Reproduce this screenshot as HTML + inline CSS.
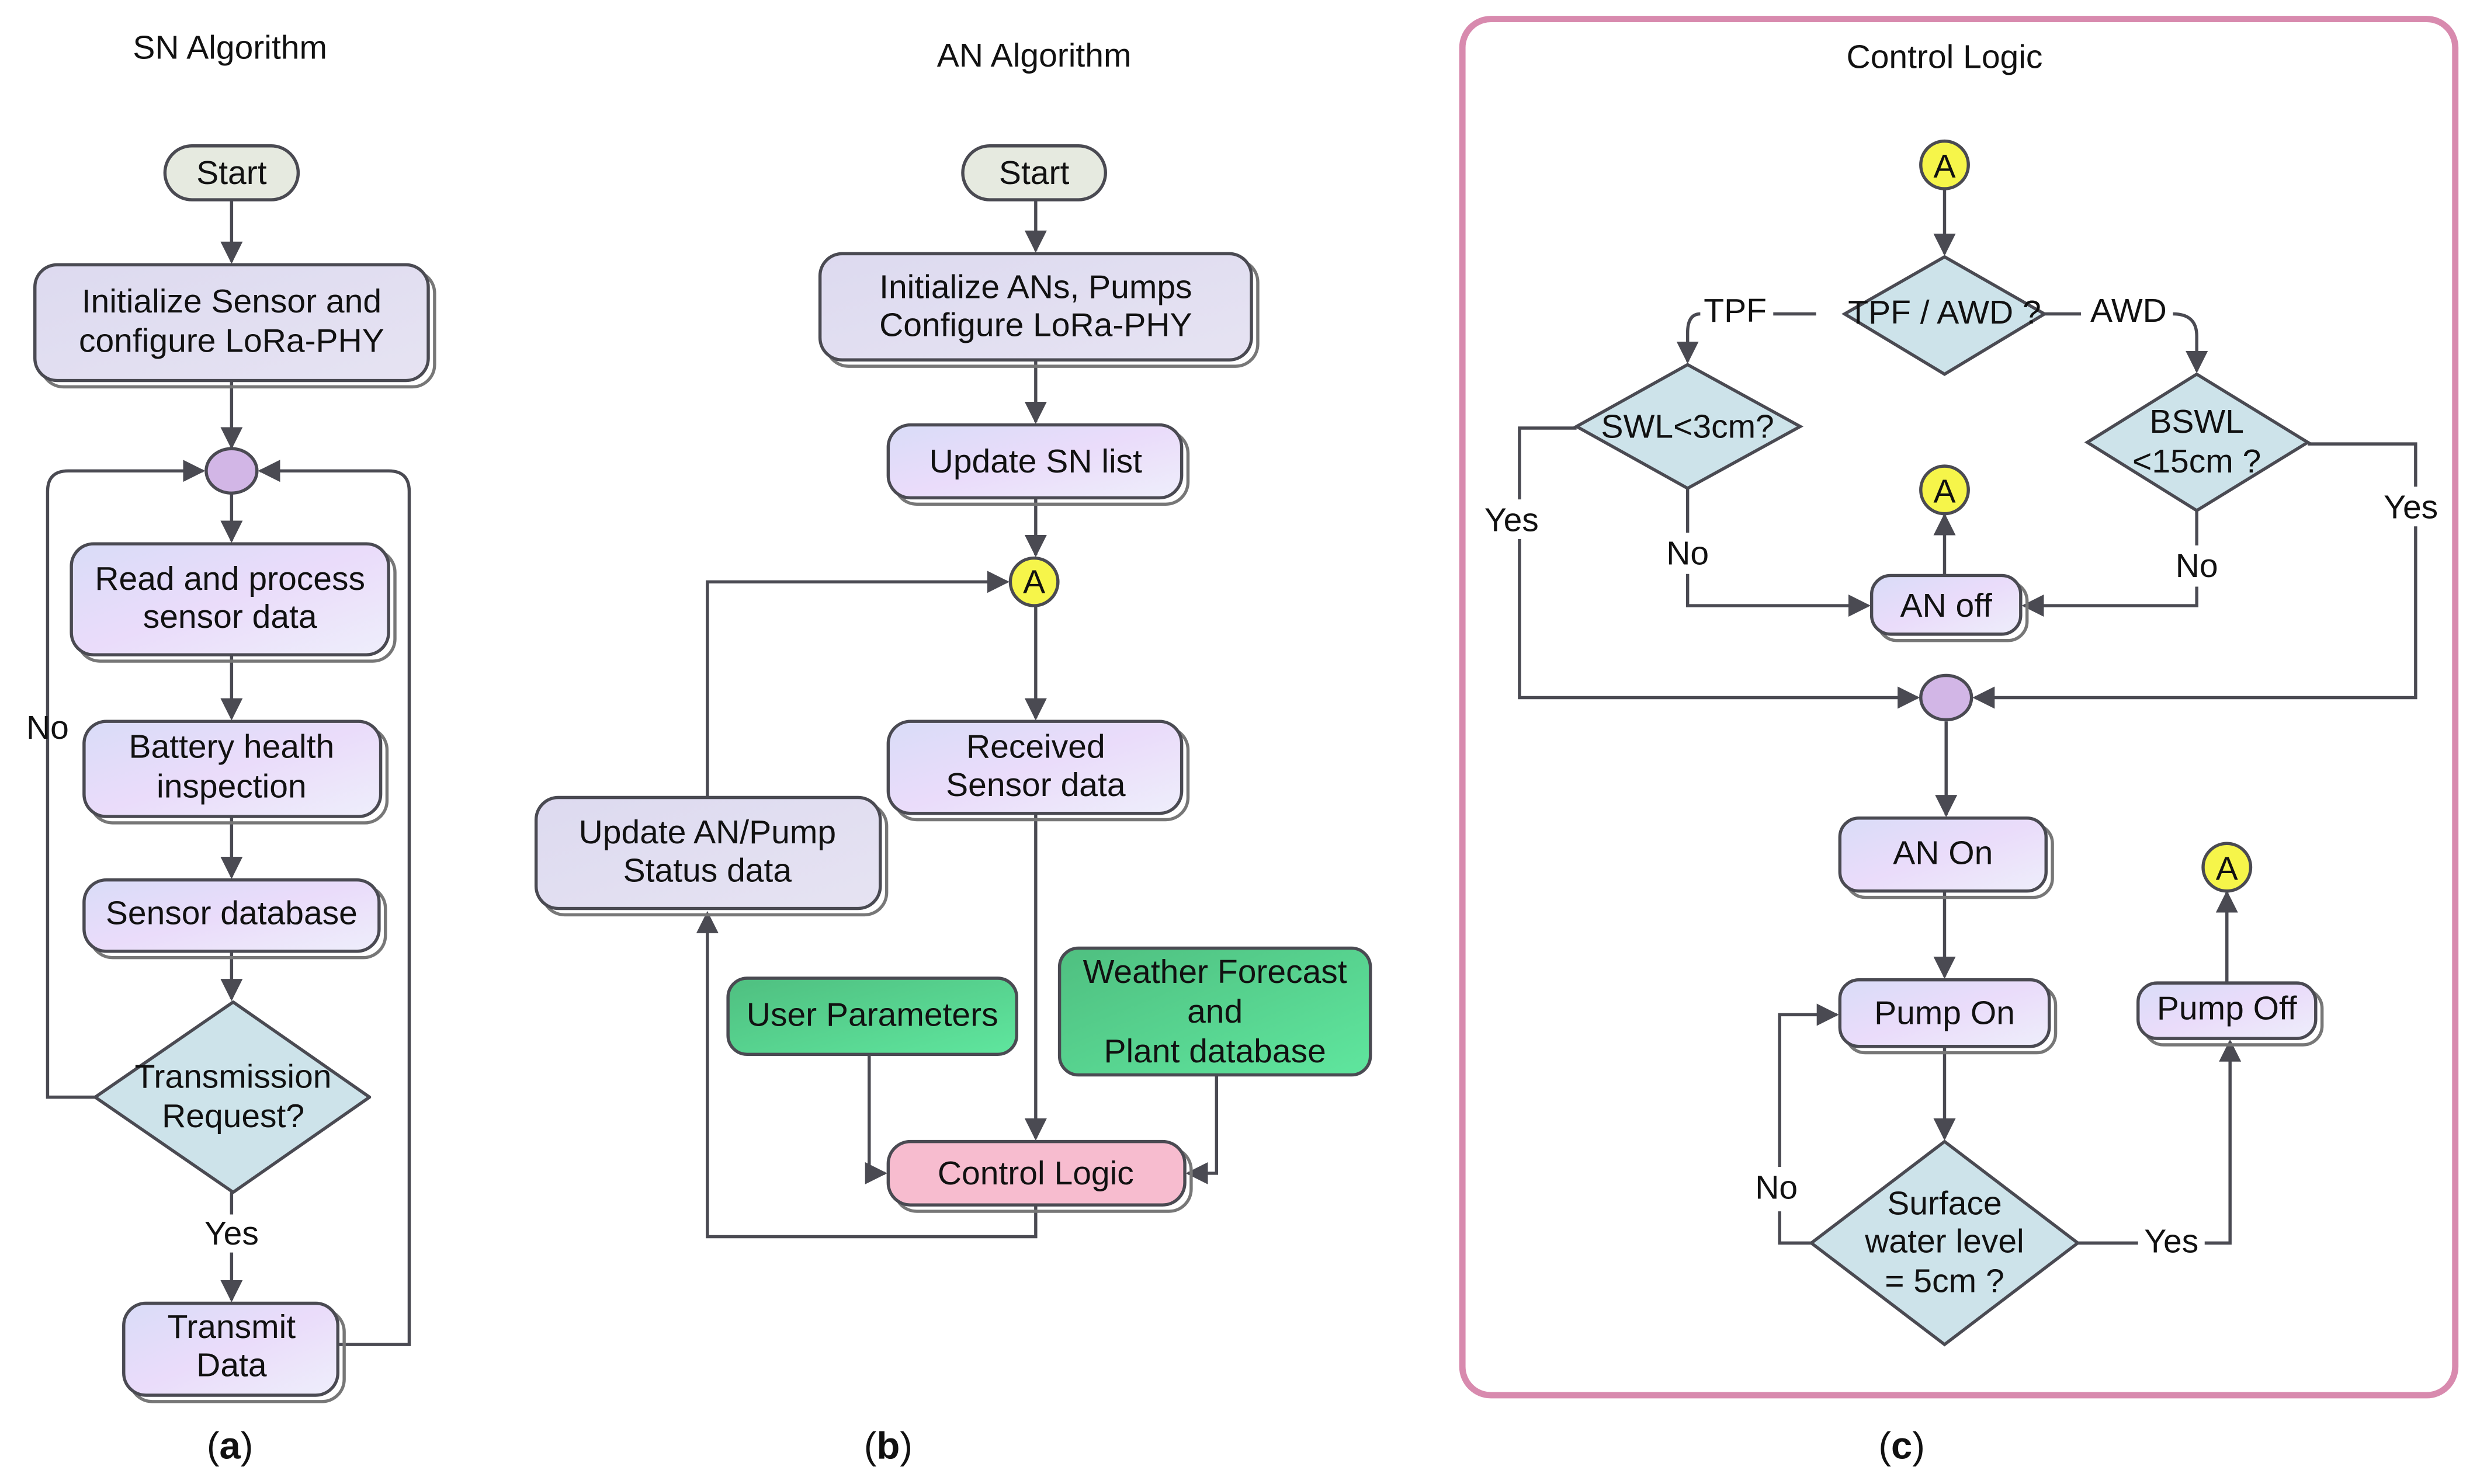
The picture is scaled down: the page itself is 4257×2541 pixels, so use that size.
<!DOCTYPE html>
<html><head><meta charset="utf-8"><style>
html,body{margin:0;padding:0;background:#fff}
svg{display:block}
text{font-family:"Liberation Sans",sans-serif;fill:#111}
</style></head><body>
<svg width="4257" height="2541" viewBox="0 0 1568 936" preserveAspectRatio="none" xmlns="http://www.w3.org/2000/svg">
<defs>
<linearGradient id="lav" x1="0" y1="0" x2="1" y2="1"><stop offset="0" stop-color="#d9dcf8"/><stop offset="0.5" stop-color="#eadcfa"/><stop offset="1" stop-color="#eeeefb"/></linearGradient>
<linearGradient id="lav2" x1="0" y1="0" x2="1" y2="1"><stop offset="0" stop-color="#dddaf0"/><stop offset="1" stop-color="#e6e3f2"/></linearGradient>
<linearGradient id="grn" x1="0" y1="0" x2="1" y2="1"><stop offset="0" stop-color="#4fbf80"/><stop offset="1" stop-color="#5fe69e"/></linearGradient>
<marker id="ar" viewBox="0 0 10 10" refX="9" refY="5" markerWidth="7" markerHeight="7" orient="auto-start-reverse"><path d="M0,0 L10,5 L0,10 z" fill="#4a4a52"/></marker>
</defs>
<g font-size="21" text-anchor="middle">
<text x="145" y="37">SN Algorithm</text>
<text x="652" y="42">AN Algorithm</text>
<text x="1226" y="43">Control Logic</text>
<text x="145" y="920" font-family="Liberation Serif" font-size="24">(<tspan font-weight="bold">a</tspan>)</text>
<text x="560" y="920" font-family="Liberation Serif" font-size="24">(<tspan font-weight="bold">b</tspan>)</text>
<text x="1199" y="920" font-family="Liberation Serif" font-size="24">(<tspan font-weight="bold">c</tspan>)</text>
</g>
<rect x="922" y="12" width="626" height="868" rx="18" fill="none" stroke="#d88aae" stroke-width="4"/>

<g stroke="#4a4a52" stroke-width="2" fill="none">
<line x1="146" y1="126" x2="146" y2="165" marker-end="url(#ar)"/>
<line x1="146" y1="240" x2="146" y2="282" marker-end="url(#ar)"/>
<line x1="146" y1="311" x2="146" y2="341" marker-end="url(#ar)"/>
<line x1="146" y1="413" x2="146" y2="453" marker-end="url(#ar)"/>
<line x1="146" y1="515" x2="146" y2="553" marker-end="url(#ar)"/>
<line x1="146" y1="600" x2="146" y2="630" marker-end="url(#ar)"/>
<line x1="146" y1="752" x2="146" y2="766"/>
<line x1="146" y1="790" x2="146" y2="820" marker-end="url(#ar)"/>
<path d="M60,692 L30,692 L30,310 Q30,297 43,297 L128,297" marker-end="url(#ar)"/>
<path d="M213,848 L258,848 L258,310 Q258,297 245,297 L164,297" marker-end="url(#ar)"/>
<line x1="653" y1="126" x2="653" y2="158" marker-end="url(#ar)"/>
<line x1="653" y1="227" x2="653" y2="266" marker-end="url(#ar)"/>
<line x1="653" y1="314" x2="653" y2="350" marker-end="url(#ar)"/>
<line x1="653" y1="382" x2="653" y2="453" marker-end="url(#ar)"/>
<line x1="653" y1="513" x2="653" y2="718" marker-end="url(#ar)"/>
<path d="M653,760 L653,780 L446,780 L446,576" marker-end="url(#ar)"/>
<path d="M446,503 L446,367 L635,367" marker-end="url(#ar)"/>
<path d="M548,665 L548,740 L558,740" marker-end="url(#ar)"/>
<path d="M767,678 L767,740 L749,740" marker-end="url(#ar)"/>
<line x1="1226" y1="119" x2="1226" y2="160" marker-end="url(#ar)"/>
<path d="M1145,198 L1118,198"/>
<path d="M1072,198 Q1064,198 1064,210 L1064,228" marker-end="url(#ar)"/>
<path d="M1289,198 L1312,198"/>
<path d="M1370,198 Q1385,198 1385,212 L1385,234" marker-end="url(#ar)"/>
<path d="M1064,308 L1064,336"/>
<path d="M1064,362 L1064,382 L1178,382" marker-end="url(#ar)"/>
<path d="M1385,322 L1385,344"/>
<path d="M1385,370 L1385,382 L1276,382" marker-end="url(#ar)"/>
<line x1="1226" y1="363" x2="1226" y2="325" marker-end="url(#ar)"/>
<path d="M994,270 L958,270 L958,315"/>
<path d="M958,340 L958,440 L1209,440" marker-end="url(#ar)"/>
<path d="M1455,280 L1523,280 L1523,307"/>
<path d="M1523,332 L1523,440 L1245,440" marker-end="url(#ar)"/>
<line x1="1227" y1="455" x2="1227" y2="514" marker-end="url(#ar)"/>
<line x1="1226" y1="562" x2="1226" y2="616" marker-end="url(#ar)"/>
<line x1="1226" y1="660" x2="1226" y2="718" marker-end="url(#ar)"/>
<path d="M1142,784 L1122,784 L1122,764"/>
<path d="M1122,736 L1122,640 L1158,640" marker-end="url(#ar)"/>
<path d="M1310,784 L1348,784"/>
<path d="M1390,784 L1406,784 L1406,657" marker-end="url(#ar)"/>
<line x1="1404" y1="620" x2="1404" y2="563" marker-end="url(#ar)"/>
</g>

<g stroke="#4a4a52" stroke-width="2">
<g fill="none" stroke="#777" stroke-width="2">
<rect x="26" y="171" width="248" height="73" rx="14"/>
<rect x="49" y="347" width="200" height="70" rx="14"/>
<rect x="57" y="459" width="187" height="60" rx="14"/>
<rect x="57" y="559" width="186" height="45" rx="14"/>
<rect x="82" y="826" width="135" height="58" rx="14"/>
<rect x="521" y="164" width="272" height="67" rx="14"/>
<rect x="564" y="272" width="185" height="46" rx="14"/>
<rect x="564" y="459" width="185" height="58" rx="14"/>
<rect x="342" y="507" width="217" height="70" rx="14"/>
<rect x="564" y="724" width="187" height="40" rx="14"/>
<rect x="1184" y="367" width="94" height="37" rx="12"/>
<rect x="1164" y="520" width="130" height="46" rx="12"/>
<rect x="1164" y="622" width="132" height="42" rx="12"/>
<rect x="1352" y="624" width="112" height="35" rx="12"/>
</g>
<rect x="104" y="92" width="84" height="34" rx="17" fill="#e6eae0"/>
<rect x="22" y="167" width="248" height="73" rx="14" fill="url(#lav2)"/>
<ellipse cx="146" cy="297" rx="16" ry="14" fill="#d2b6e6"/>
<rect x="45" y="343" width="200" height="70" rx="14" fill="url(#lav)"/>
<rect x="53" y="455" width="187" height="60" rx="14" fill="url(#lav)"/>
<rect x="53" y="555" width="186" height="45" rx="14" fill="url(#lav)"/>
<path d="M147,632 L233,692 L147,752 L60,692 Z" fill="#cde3ea" stroke-linejoin="round"/>
<rect x="78" y="822" width="135" height="58" rx="14" fill="url(#lav)"/>

<rect x="607" y="92" width="90" height="34" rx="17" fill="#e6eae0"/>
<rect x="517" y="160" width="272" height="67" rx="14" fill="url(#lav2)"/>
<rect x="560" y="268" width="185" height="46" rx="14" fill="url(#lav)"/>
<circle cx="652" cy="367" r="15" fill="#f6f54a"/>
<rect x="560" y="455" width="185" height="58" rx="14" fill="url(#lav)"/>
<rect x="338" y="503" width="217" height="70" rx="14" fill="url(#lav2)"/>
<rect x="459" y="617" width="182" height="48" rx="12" fill="url(#grn)"/>
<rect x="668" y="598" width="196" height="80" rx="12" fill="url(#grn)"/>
<rect x="560" y="720" width="187" height="40" rx="14" fill="#f7bccf"/>

<circle cx="1226" cy="104" r="15" fill="#f6f54a"/>
<path d="M1226,162 L1289,198 L1226,236 L1163,198 Z" fill="#cde3ea"/>
<path d="M1064,230 L1135,269 L1064,308 L994,269 Z" fill="#cde3ea"/>
<path d="M1385,236 L1455,279 L1385,322 L1316,279 Z" fill="#cde3ea"/>
<circle cx="1226" cy="309" r="15" fill="#f6f54a"/>
<rect x="1180" y="363" width="94" height="37" rx="12" fill="url(#lav)"/>
<ellipse cx="1227" cy="440" rx="16" ry="14" fill="#d2b6e6"/>
<rect x="1160" y="516" width="130" height="46" rx="12" fill="url(#lav)"/>
<rect x="1160" y="618" width="132" height="42" rx="12" fill="url(#lav)"/>
<rect x="1348" y="620" width="112" height="35" rx="12" fill="url(#lav)"/>
<circle cx="1404" cy="547" r="15" fill="#f6f54a"/>
<path d="M1226,720 L1310,784 L1226,848 L1142,784 Z" fill="#cde3ea"/>
</g>

<g font-size="21" text-anchor="middle">
<text x="146" y="116">Start</text>
<text x="146" y="197">Initialize Sensor and</text>
<text x="146" y="222">configure LoRa-PHY</text>
<text x="145" y="372">Read and process</text>
<text x="145" y="396">sensor data</text>
<text x="146" y="478">Battery health</text>
<text x="146" y="503">inspection</text>
<text x="146" y="583">Sensor database</text>
<text x="147" y="686">Transmission</text>
<text x="147" y="711">Request?</text>
<text x="146" y="785">Yes</text>
<text x="30" y="466">No</text>
<text x="146" y="844">Transmit</text>
<text x="146" y="868">Data</text>

<text x="652" y="116">Start</text>
<text x="653" y="188">Initialize ANs, Pumps</text>
<text x="653" y="212">Configure LoRa-PHY</text>
<text x="653" y="298">Update SN list</text>
<text x="652" y="374">A</text>
<text x="653" y="478">Received</text>
<text x="653" y="502">Sensor data</text>
<text x="446" y="532">Update AN/Pump</text>
<text x="446" y="556">Status data</text>
<text x="550" y="647">User Parameters</text>
<text x="766" y="620">Weather Forecast</text>
<text x="766" y="645">and</text>
<text x="766" y="670">Plant database</text>
<text x="653" y="747">Control Logic</text>

<text x="1226" y="112">A</text>
<text x="1226" y="204">TPF / AWD ?</text>
<text x="1094" y="203">TPF</text>
<text x="1342" y="203">AWD</text>
<text x="1064" y="276">SWL&lt;3cm?</text>
<text x="1385" y="273">BSWL</text>
<text x="1385" y="298">&lt;15cm ?</text>
<text x="1226" y="317">A</text>
<text x="953" y="335">Yes</text>
<text x="1064" y="356">No</text>
<text x="1385" y="364">No</text>
<text x="1520" y="327">Yes</text>
<text x="1227" y="389">AN off</text>
<text x="1225" y="545">AN On</text>
<text x="1226" y="646">Pump On</text>
<text x="1404" y="643">Pump Off</text>
<text x="1404" y="555">A</text>
<text x="1226" y="766">Surface</text>
<text x="1226" y="790">water level</text>
<text x="1226" y="815">= 5cm ?</text>
<text x="1120" y="756">No</text>
<text x="1369" y="790">Yes</text>
</g>
</svg>
</body></html>
